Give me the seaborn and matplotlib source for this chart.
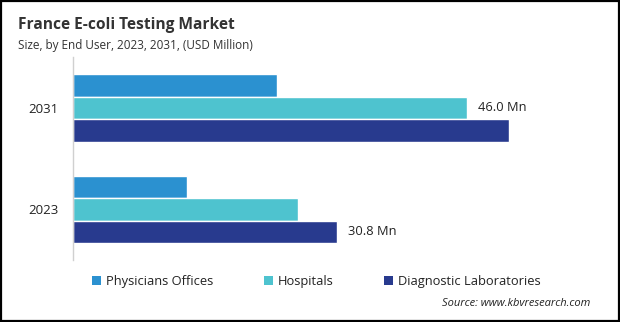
import matplotlib
matplotlib.use("Agg")
import matplotlib.pyplot as plt
from matplotlib.patches import Patch, Rectangle
import seaborn as sns
import pandas as pd

# Market size by end user (USD Million)
years = ["2031", "2023"]
segments = ["Physicians Offices", "Hospitals", "Diagnostic Laboratories"]
physicians = [23.8, 13.4]
hospitals = [46.0, 26.3]
diagnostic = [50.9, 30.8]
colors = ["#2B91D0", "#4EC3CF", "#283A8E"]

df = pd.DataFrame({
    "year": years * 3,
    "segment": [s for s in segments for _ in years],
    "value": physicians + hospitals + diagnostic,
})

sns.set_theme(style="white")
plt.rcParams["font.family"] = ["Open Sans", "DejaVu Sans"]

fig = plt.figure(figsize=(6.2, 3.22), dpi=100)
ax = fig.add_axes([0.117, 0.192, 0.83, 0.631])

sns.barplot(data=df, y="year", x="value", hue="segment", order=years,
            hue_order=segments, palette=colors, orient="h", width=0.666,
            gap=0, saturation=1, legend=False, ax=ax)

ax.set_xlim(0, 60)
ax.set_xlabel("")
ax.set_ylabel("")
ax.set_xticks([])
for side in ["top", "right", "bottom"]:
    ax.spines[side].set_visible(False)
ax.spines["left"].set_color("#D0D0D0")
ax.spines["left"].set_linewidth(1.0)
ax.tick_params(axis="y", length=0, pad=10, labelsize=9.5, labelcolor="#222222")

# value labels on the highlighted bars
ax.bar_label(ax.containers[1], labels=["46.0 Mn", ""], padding=8,
             fontsize=9.3, color="#222222")
ax.bar_label(ax.containers[2], labels=["", "30.8 Mn"], padding=8,
             fontsize=9.3, color="#222222")

fig.text(0.029, 0.922, "France E-coli Testing Market", fontsize=11.2,
         fontweight="bold", color="#333333", va="center")
fig.text(0.029, 0.86, "Size, by End User, 2023, 2031, (USD Million)",
         fontsize=8.5, color="#333333", va="center")

handles = [Patch(facecolor=c, edgecolor="none") for c in colors]
fig.legend(handles, segments, loc="center", bbox_to_anchor=(0.51, 0.127),
           ncol=3, frameon=False, fontsize=9.3, handlelength=0.7,
           handleheight=0.7, handletextpad=0.4, columnspacing=3.9,
           labelcolor="#222222")

fig.text(0.952, 0.056, "Source: www.kbvresearch.com", fontsize=8.0,
         style="italic", color="#222222", ha="right", va="center")

fig.patches.append(Rectangle((0.001, 0.002), 0.997, 0.996,
                             transform=fig.transFigure, fill=False,
                             edgecolor="black", linewidth=1.6))

fig.savefig("out.png", dpi=100)
